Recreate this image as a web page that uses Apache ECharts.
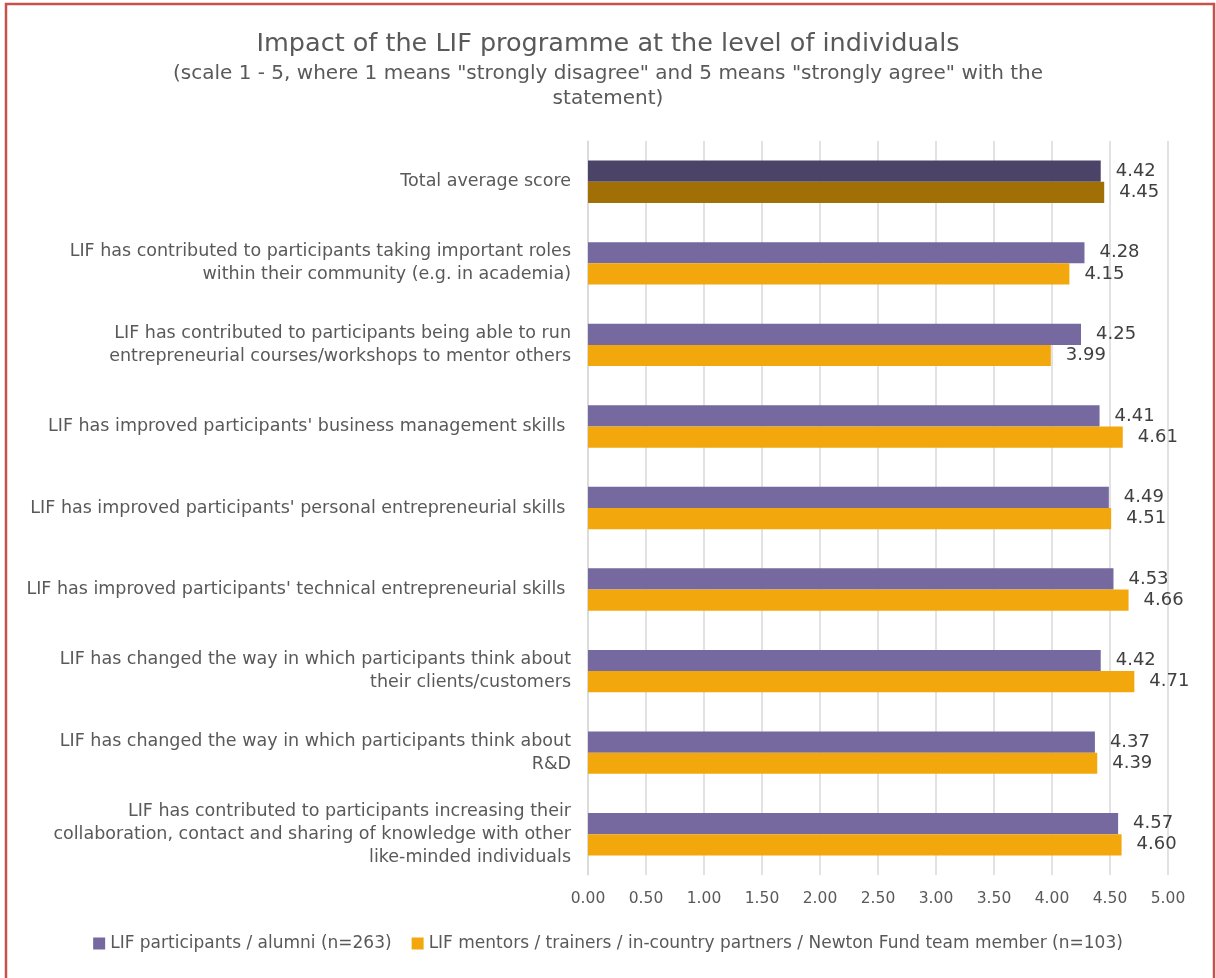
<!DOCTYPE html>
<html>
<head>
<meta charset="utf-8">
<style>
  html, body { margin: 0; padding: 0; background: #ffffff; }
  #chart { width: 1216px; height: 978px; }
</style>
<script src="https://cdn.jsdelivr.net/npm/echarts@6/dist/echarts.min.js"></script>
</head>
<body>
<div id="chart"></div>
<script>
// Statements, top to bottom
const categories = [
  'Total average score',
  'LIF has contributed to participants taking important roles\nwithin their community (e.g. in academia)',
  'LIF has contributed to participants being able to run\nentrepreneurial courses/workshops to mentor others',
  "LIF has improved participants' business management skills ",
  "LIF has improved participants' personal entrepreneurial skills ",
  "LIF has improved participants' technical entrepreneurial skills ",
  'LIF has changed the way in which participants think about\ntheir clients/customers',
  'LIF has changed the way in which participants think about\nR&D',
  'LIF has contributed to participants increasing their\ncollaboration, contact and sharing of knowledge with other\nlike-minded individuals'
];

const seriesNames = [
  'LIF participants / alumni (n=263)',
  'LIF mentors / trainers / in-country partners / Newton Fund team member (n=103)'
];

const alumniScores = [4.42, 4.28, 4.25, 4.41, 4.49, 4.53, 4.42, 4.37, 4.57];
const mentorScores = [4.45, 4.15, 3.99, 4.61, 4.51, 4.66, 4.71, 4.39, 4.60];

const xTicks = ['0.00', '0.50', '1.00', '1.50', '2.00', '2.50', '3.00', '3.50', '4.00', '4.50', '5.00'];

const FONT = 'DejaVu Sans';
const purple = '#7569a0', purpleDark = '#4b4468';
const orange = '#f2a80c', orangeDark = '#a07007';

// first row (total) gets the darker shade
function withTotalShade(values, dark) {
  return values.map((v, i) => i === 0 ? { value: v, itemStyle: { color: dark } } : v);
}

const chart = echarts.init(document.getElementById('chart'), null, { renderer: 'canvas' });

const valueLabel = {
  show: true,
  position: 'right',
  distance: 15,
  color: '#404040',
  fontFamily: FONT,
  fontSize: 18,
  formatter: p => p.value.toFixed(2)
};

chart.setOption({
  animation: false,
  backgroundColor: '#ffffff',
  title: {
    left: 'center',
    top: 26,
    itemGap: 4,
    text: 'Impact of the LIF programme at the level of individuals',
    subtext: '(scale 1 - 5, where 1 means "strongly disagree" and 5 means "strongly agree" with the\nstatement)',
    textStyle: { fontFamily: FONT, fontSize: 25.5, fontWeight: 'normal', color: '#595959' },
    subtextStyle: { fontFamily: FONT, fontSize: 20, color: '#595959', lineHeight: 25, align: 'center' }
  },
  legend: {
    bottom: 21,
    left: 'center',
    itemWidth: 12,
    itemHeight: 12,
    itemGap: 20,
    icon: 'rect',
    textStyle: { fontFamily: FONT, fontSize: 17, color: '#595959' },
    data: seriesNames
  },
  graphic: [{
    type: 'rect',
    silent: true,
    shape: { x: 6, y: 4, width: 1208, height: 1000 },
    style: { fill: 'none', stroke: '#c9504d', lineWidth: 2.5 }
  }],
  grid: { left: 588, right: 48, top: 141, bottom: 103, containLabel: false },
  xAxis: {
    type: 'value',
    min: 0,
    max: 5,
    interval: 0.5,
    axisLine: { show: false },
    axisTick: { show: false },
    splitLine: { lineStyle: { color: '#d9d9d9', width: 1.5 } },
    axisLabel: {
      margin: 16,
      color: '#595959',
      fontFamily: FONT,
      fontSize: 15.5,
      formatter: (v) => xTicks[Math.round(v / 0.5)]
    }
  },
  yAxis: {
    type: 'category',
    inverse: true,
    data: categories,
    axisLine: { show: true, lineStyle: { color: '#d9d9d9', width: 1.5 } },
    axisTick: { show: false },
    axisLabel: {
      margin: 17,
      color: '#595959',
      fontFamily: FONT,
      fontSize: 17.5,
      lineHeight: 23,
      align: 'right',
      interval: 0
    }
  },
  series: [
    {
      name: seriesNames[0],
      type: 'bar',
      data: withTotalShade(alumniScores, purpleDark),
      itemStyle: { color: purple },
      barGap: '0%',
      barCategoryGap: '48%',
      label: valueLabel
    },
    {
      name: seriesNames[1],
      type: 'bar',
      data: withTotalShade(mentorScores, orangeDark),
      itemStyle: { color: orange },
      barGap: '0%',
      barCategoryGap: '48%',
      label: valueLabel
    }
  ]
});
</script>
</body>
</html>
